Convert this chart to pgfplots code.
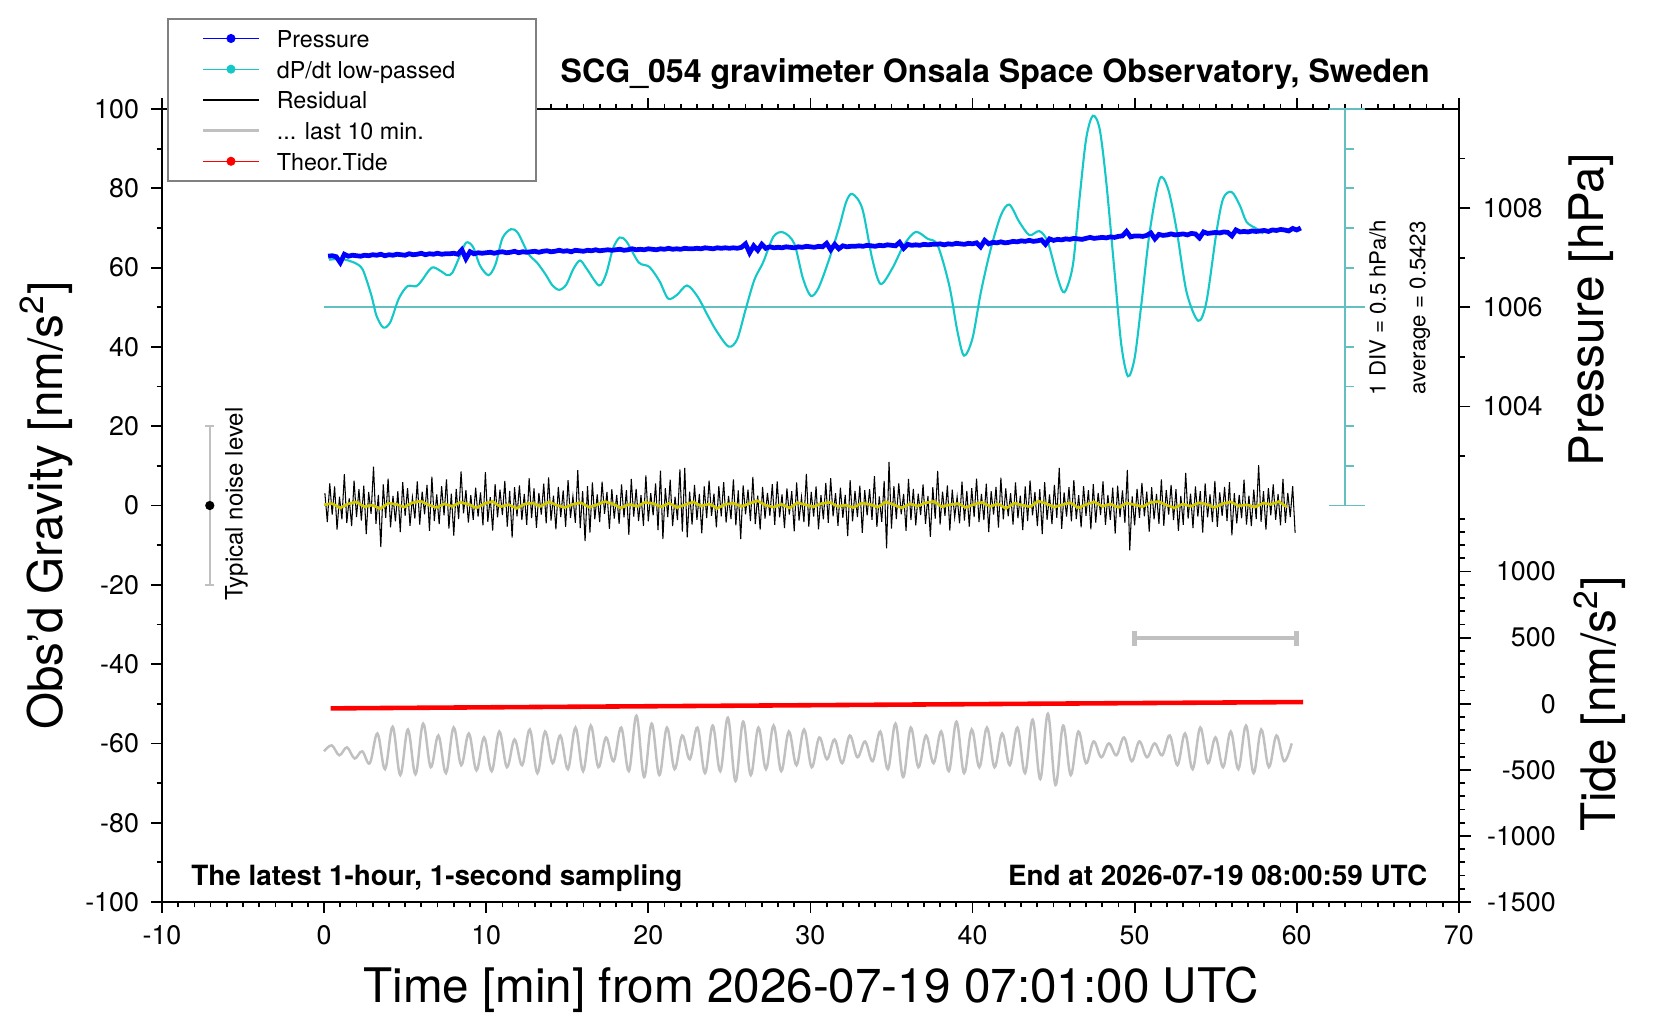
\documentclass[border=0pt]{standalone}
\usepackage{pgfplots}
\usepackage{pgfplotstable}
\pgfplotsset{compat=1.18}
\usepackage{fontspec}
\setmainfont{TeX Gyre Heros}
\setsansfont{TeX Gyre Heros}
\definecolor{cyc}{RGB}{20,200,200}
\definecolor{cys}{RGB}{100,192,192}
\definecolor{gry}{RGB}{192,192,192}
\definecolor{yel}{RGB}{210,200,0}
\definecolor{lgb}{RGB}{128,128,128}
\newcommand{\labfont}{\fontsize{13.5}{16}\selectfont}

% Residual (nm/s^2), 0.15 min spacing from t=0.05
\pgfplotstableread[row sep=\\]{r\\
3.1\\ -4.2\\ 5.6\\ -2.3\\ 4.8\\ -6.1\\ 2.2\\ -3.5\\ 7.9\\ -4.4\\ 1.8\\ -5.2\\ 6.3\\ -2.9\\ 4.1\\ -3.8\\ 5.0\\ -7.2\\ 3.4\\ -2.1\\
9.8\\ -4.6\\ 2.7\\ -10.5\\ 5.3\\ -3.1\\ 6.8\\ -5.5\\ 2.4\\ -4.0\\ 3.6\\ -6.7\\ 5.9\\ -2.6\\ 4.4\\ -5.1\\ 2.0\\ -3.3\\ 6.1\\ -4.8\\
3.5\\ -2.2\\ 5.2\\ -6.4\\ 7.3\\ -3.9\\ 2.8\\ -4.7\\ 4.9\\ -2.5\\ 6.6\\ -5.8\\ 3.0\\ -7.6\\ 4.2\\ -3.4\\ 8.6\\ -2.0\\ 3.9\\ -4.3\\
2.6\\ -3.6\\ 4.5\\ -2.8\\ 3.3\\ -5.0\\ 8.4\\ -4.1\\ 2.1\\ -6.3\\ 5.4\\ -3.0\\ 4.0\\ -2.4\\ 6.2\\ -5.3\\ 3.7\\ -8.1\\ 4.6\\ -2.7\\
5.1\\ -3.7\\ 2.9\\ -4.9\\ 6.9\\ -3.2\\ 4.3\\ -5.6\\ 3.2\\ -2.3\\ 5.5\\ -4.5\\ 7.1\\ -3.8\\ 2.5\\ -6.0\\ 4.7\\ -2.9\\ 3.8\\ -5.4\\
6.4\\ -3.1\\ 2.3\\ -4.4\\ 8.9\\ -5.7\\ 3.6\\ -9.0\\ 4.9\\ -6.8\\ 5.8\\ -3.5\\ 2.8\\ -4.2\\ 6.0\\ -2.1\\ 3.4\\ -5.9\\ 4.1\\ -3.3\\
2.7\\ -4.6\\ 5.3\\ -3.0\\ 3.9\\ -7.4\\ 6.7\\ -2.8\\ 4.2\\ -3.9\\ 2.6\\ -5.1\\ 7.6\\ -4.0\\ 3.1\\ -2.5\\ 5.6\\ -6.2\\ 8.8\\ -8.5\\
4.4\\ -2.9\\ 6.5\\ -5.2\\ 2.2\\ -3.7\\ 9.1\\ -6.6\\ 9.5\\ -8.0\\ 3.5\\ -4.8\\ 5.2\\ -3.6\\ 2.9\\ -7.0\\ 4.8\\ -3.2\\ 6.3\\ -2.6\\
3.0\\ -5.5\\ 4.9\\ -2.7\\ 5.9\\ -4.3\\ 2.4\\ -3.4\\ 6.6\\ -5.0\\ 3.8\\ -8.5\\ 5.1\\ -2.2\\ 4.0\\ -3.9\\ 7.2\\ -4.7\\ 2.5\\ -6.1\\
4.7\\ -3.3\\ 3.2\\ -2.6\\ 5.4\\ -4.9\\ 6.1\\ -3.0\\ 2.8\\ -5.7\\ 4.3\\ -2.3\\ 3.6\\ -6.5\\ 5.8\\ -3.8\\ 2.1\\ -4.2\\ 8.0\\ -5.3\\
3.4\\ -2.8\\ 4.8\\ -6.0\\ 2.6\\ -3.5\\ 5.7\\ -4.4\\ 6.9\\ -2.7\\ 3.1\\ -5.1\\ 4.5\\ -3.1\\ 2.7\\ -7.7\\ 6.4\\ -4.0\\ 3.7\\ -2.9\\
5.0\\ -6.9\\ 3.9\\ -2.5\\ 4.1\\ -3.6\\ 7.4\\ -5.4\\ 2.3\\ -4.1\\ 6.2\\ -10.8\\ 11.0\\ -5.8\\ 4.9\\ -3.4\\ 5.6\\ -2.2\\ 2.9\\ -6.4\\
6.7\\ -3.7\\ 4.2\\ -5.0\\ 3.0\\ -2.4\\ 5.3\\ -4.6\\ 2.4\\ -7.9\\ 4.6\\ -3.3\\ 8.7\\ -4.8\\ 3.5\\ -2.6\\ 5.1\\ -6.3\\ 4.0\\ -3.0\\
2.2\\ -4.5\\ 6.0\\ -3.8\\ 3.7\\ -5.3\\ 4.4\\ -2.9\\ 6.8\\ -4.2\\ 2.9\\ -3.7\\ 5.5\\ -6.7\\ 3.6\\ -2.3\\ 4.7\\ -5.6\\ 7.0\\ -3.5\\
4.3\\ -2.7\\ 3.1\\ -4.8\\ 5.8\\ -3.2\\ 2.5\\ -6.2\\ 4.8\\ -3.9\\ 6.3\\ -2.5\\ 3.4\\ -5.2\\ 4.1\\ -7.2\\ 5.9\\ -3.6\\ 2.8\\ -4.7\\
5.2\\ -3.1\\ 9.5\\ -5.9\\ 3.3\\ -2.8\\ 4.6\\ -4.0\\ 6.4\\ -3.4\\ 2.6\\ -5.5\\ 4.9\\ -2.6\\ 3.9\\ -6.0\\ 5.4\\ -4.3\\ 3.2\\ -2.4\\
6.1\\ -4.9\\ 2.7\\ -3.6\\ 4.5\\ -7.1\\ 5.0\\ -2.9\\ 3.8\\ -4.4\\ 9.0\\ -11.3\\ 2.3\\ -5.0\\ 4.2\\ -3.1\\ 5.7\\ -2.7\\ 3.5\\ -6.6\\
4.6\\ -3.5\\ 2.9\\ -4.6\\ 6.6\\ -5.1\\ 3.9\\ -2.3\\ 5.2\\ -3.7\\ 4.1\\ -6.4\\ 2.4\\ -4.9\\ 8.2\\ -3.3\\ 3.0\\ -5.7\\ 4.8\\ -2.8\\
3.6\\ -6.8\\ 5.6\\ -3.0\\ 2.8\\ -4.2\\ 6.2\\ -5.4\\ 3.3\\ -2.6\\ 4.7\\ -3.9\\ 5.9\\ -7.5\\ 3.1\\ -4.5\\ 2.7\\ -3.2\\ 6.5\\ -4.8\\
2.5\\ -5.2\\ 4.0\\ -3.4\\ 10.2\\ -4.1\\ 3.6\\ -6.1\\ 4.4\\ -2.5\\ 5.3\\ -3.6\\ 2.9\\ -5.0\\ 6.7\\ -4.4\\ 3.2\\ -2.9\\ 4.9\\ -6.9\\
}\resid

% Smoothed residual, 0.495 min spacing
\pgfplotstableread[row sep=\\]{s\\
0.2\\ 0.5\\ -0.6\\ 0.4\\ 0.9\\ -0.3\\ 0.1\\ -0.8\\ 0.6\\ 0.3\\
-0.4\\ 0.7\\ 1.1\\ 0.2\\ -0.5\\ 0.4\\ -0.2\\ 0.8\\ 0.3\\ -0.6\\
0.5\\ 1.0\\ -0.3\\ 0.2\\ -0.7\\ 0.4\\ 0.6\\ -0.2\\ 0.9\\ 0.1\\
-0.5\\ 0.3\\ 0.7\\ -0.4\\ 0.2\\ 1.0\\ 0.4\\ -0.6\\ 0.3\\ -0.2\\
0.8\\ 0.5\\ -0.3\\ 0.6\\ -0.5\\ 0.2\\ 0.9\\ -0.1\\ 0.4\\ -0.7\\
0.3\\ 0.6\\ -0.2\\ 0.5\\ 1.2\\ 0.1\\ -0.4\\ 0.3\\ -0.6\\ 0.7\\
0.2\\ -0.3\\ 0.5\\ 0.8\\ -0.2\\ 0.1\\ -0.5\\ 0.6\\ 0.3\\ -0.4\\
0.9\\ 0.2\\ -0.6\\ 0.4\\ -0.1\\ 0.7\\ 1.0\\ -0.3\\ 0.2\\ 0.5\\
-0.5\\ 0.3\\ 0.8\\ -0.2\\ 0.4\\ -0.7\\ 0.6\\ 0.1\\ -0.3\\ 1.1\\
0.5\\ -0.4\\ 0.2\\ 0.7\\ -0.6\\ 0.3\\ 0.9\\ -0.2\\ 0.4\\ -0.5\\
0.6\\ 0.2\\ -0.3\\ 0.8\\ 1.0\\ 0.1\\ -0.6\\ 0.4\\ -0.2\\ 0.7\\
0.3\\ -0.5\\ 0.5\\ 0.9\\ -0.1\\ 0.2\\ -0.4\\ 0.6\\ 0.3\\ 1.0\\
-0.4\\
}\smooth

% Last 10 min residual (offset display), 0.47 min spacing
\pgfplotstableread[row sep=\\]{g\\
-62.0\\ -60.5\\ -63.0\\ -61.0\\ -63.8\\ -62.0\\ -65.0\\
-57.5\\ -66.5\\ -55.8\\ -68.0\\ -56.5\\ -67.8\\ -55.0\\ -66.0\\ -58.0\\ -67.5\\
-56.0\\ -65.5\\ -57.5\\ -66.8\\ -58.5\\ -67.0\\ -57.0\\ -66.0\\ -59.0\\ -65.5\\
-56.5\\ -67.5\\ -57.0\\ -65.0\\ -58.0\\ -66.5\\ -56.0\\ -67.0\\ -55.5\\ -66.0\\
-58.5\\ -64.5\\ -56.0\\ -67.0\\ -53.0\\ -68.5\\ -55.0\\ -68.0\\ -56.0\\ -66.5\\
-58.0\\ -64.0\\ -56.0\\ -67.5\\ -55.5\\ -67.0\\ -53.5\\ -69.5\\ -54.5\\ -68.0\\
-56.0\\ -66.5\\ -55.5\\ -67.0\\ -57.0\\ -65.5\\ -56.5\\ -66.0\\ -58.5\\ -64.0\\
-59.0\\ -65.0\\ -58.0\\ -63.5\\ -59.5\\ -64.5\\ -57.0\\ -66.5\\ -55.0\\ -68.5\\
-56.0\\ -66.0\\ -58.0\\ -65.0\\ -57.0\\ -67.0\\ -54.5\\ -67.5\\ -56.5\\ -66.0\\
-56.0\\ -66.0\\ -57.5\\ -65.5\\ -56.0\\ -67.5\\ -54.0\\ -69.0\\ -52.5\\ -70.5\\
-55.5\\ -68.0\\ -57.0\\ -65.0\\ -59.5\\ -63.5\\ -60.0\\ -63.0\\ -58.5\\ -64.5\\
-59.5\\ -63.5\\ -60.0\\ -63.0\\ -58.0\\ -65.5\\ -57.5\\ -66.5\\ -56.0\\ -65.0\\
-58.5\\ -66.0\\
-57.0\\ -66.5\\ -55.5\\ -67.5\\ -56.5\\ -66.0\\ -58.0\\ -64.5\\ -60.0\\
}\lastten

% Pressure (hPa), 0.25 min spacing from t=0.25
\pgfplotstableread[row sep=\\]{p\\
1007.03\\ 1007.04\\ 1007.02\\ 1006.90\\ 1007.07\\ 1007.03\\ 1007.05\\ 1007.04\\ 1007.03\\ 1007.05\\
1007.04\\ 1007.06\\ 1007.05\\ 1007.07\\ 1007.04\\ 1007.06\\ 1007.05\\ 1007.07\\ 1007.06\\ 1007.05\\
1007.08\\ 1007.06\\ 1007.07\\ 1007.09\\ 1007.06\\ 1007.08\\ 1007.07\\ 1007.09\\ 1007.07\\ 1007.08\\
1007.08\\ 1007.09\\ 1007.07\\ 1007.16\\ 1006.98\\ 1007.12\\ 1007.08\\ 1007.10\\ 1007.09\\ 1007.10\\
1007.11\\ 1007.09\\ 1007.11\\ 1007.12\\ 1007.10\\ 1007.11\\ 1007.13\\ 1007.10\\ 1007.12\\ 1007.11\\
1007.12\\ 1007.13\\ 1007.11\\ 1007.13\\ 1007.14\\ 1007.12\\ 1007.13\\ 1007.15\\ 1007.13\\ 1007.14\\
1007.12\\ 1007.15\\ 1007.14\\ 1007.13\\ 1007.15\\ 1007.14\\ 1007.16\\ 1007.14\\ 1007.15\\ 1007.16\\
1007.15\\ 1007.16\\ 1007.17\\ 1007.15\\ 1007.16\\ 1007.18\\ 1007.16\\ 1007.17\\ 1007.16\\ 1007.18\\
1007.17\\ 1007.16\\ 1007.18\\ 1007.17\\ 1007.19\\ 1007.17\\ 1007.18\\ 1007.17\\ 1007.19\\ 1007.18\\
1007.18\\ 1007.19\\ 1007.18\\ 1007.20\\ 1007.19\\ 1007.18\\ 1007.20\\ 1007.19\\ 1007.20\\ 1007.19\\
1007.20\\ 1007.19\\ 1007.21\\ 1007.28\\ 1007.10\\ 1007.24\\ 1007.15\\ 1007.27\\ 1007.19\\ 1007.22\\
1007.20\\ 1007.21\\ 1007.20\\ 1007.22\\ 1007.21\\ 1007.20\\ 1007.22\\ 1007.21\\ 1007.23\\ 1007.22\\
1007.21\\ 1007.23\\ 1007.22\\ 1007.29\\ 1007.16\\ 1007.27\\ 1007.18\\ 1007.24\\ 1007.22\\ 1007.23\\
1007.23\\ 1007.24\\ 1007.23\\ 1007.25\\ 1007.24\\ 1007.23\\ 1007.25\\ 1007.24\\ 1007.26\\ 1007.25\\
1007.24\\ 1007.31\\ 1007.19\\ 1007.27\\ 1007.25\\ 1007.26\\ 1007.25\\ 1007.27\\ 1007.26\\ 1007.27\\
1007.27\\ 1007.28\\ 1007.26\\ 1007.28\\ 1007.27\\ 1007.29\\ 1007.28\\ 1007.27\\ 1007.29\\ 1007.28\\
1007.30\\ 1007.22\\ 1007.35\\ 1007.28\\ 1007.31\\ 1007.30\\ 1007.32\\ 1007.30\\ 1007.31\\ 1007.33\\
1007.32\\ 1007.34\\ 1007.33\\ 1007.35\\ 1007.33\\ 1007.34\\ 1007.36\\ 1007.27\\ 1007.38\\ 1007.35\\
1007.37\\ 1007.36\\ 1007.38\\ 1007.37\\ 1007.39\\ 1007.38\\ 1007.37\\ 1007.39\\ 1007.41\\ 1007.39\\
1007.40\\ 1007.41\\ 1007.40\\ 1007.42\\ 1007.41\\ 1007.43\\ 1007.44\\ 1007.53\\ 1007.42\\ 1007.44\\
1007.44\\ 1007.43\\ 1007.45\\ 1007.50\\ 1007.38\\ 1007.47\\ 1007.45\\ 1007.46\\ 1007.48\\ 1007.46\\
1007.47\\ 1007.48\\ 1007.46\\ 1007.49\\ 1007.48\\ 1007.40\\ 1007.52\\ 1007.49\\ 1007.50\\ 1007.51\\
1007.50\\ 1007.52\\ 1007.51\\ 1007.44\\ 1007.56\\ 1007.52\\ 1007.53\\ 1007.52\\ 1007.54\\ 1007.53\\
1007.54\\ 1007.55\\ 1007.53\\ 1007.56\\ 1007.55\\ 1007.57\\ 1007.56\\ 1007.54\\ 1007.59\\ 1007.56\\
1007.60\\
}\pres

\pgfplotsset{
  /pgf/number format/1000 sep={},
  every axis/.append style={
    at={(0pt,0pt)}, anchor=south west, scale only axis,
    width=367.5pt, height=224.7pt,
    xmin=-10, xmax=70,
    tick align=outside,
    major tick length=3pt, minor tick length=1.5pt,
    tick style={black, line width=0.5pt},
    axis line style={black, line width=0.65pt},
    scaled ticks=false,
    /pgf/number format/assume math mode=true,
    tick label style={font=\fontsize{7.6}{9}\selectfont},
  }
}

\begin{document}
\begin{tikzpicture}
\useasboundingbox (-45.9pt,-33.3pt) rectangle (424.5pt,255.6pt);

% ---------- main gravity axis ----------
\begin{axis}[
  ymin=-100, ymax=100,
  xtick={-10,0,...,70}, minor x tick num=9,
  ytick={-100,-80,...,100}, minor y tick num=1,
  ytick pos=left, xtick pos=both, xticklabel pos=left,
  clip=false,
  xlabel={Time [min] from 2026-07-19 07:01:00 UTC},
  ylabel={Obs'd Gravity [nm/s\textsuperscript{2}]},
  every axis x label/.style={at={(axis description cs:0.5004,-0.1108)}, anchor=center, font=\labfont},
  every axis y label/.style={at={(axis description cs:-0.089,0.5)}, anchor=center, rotate=90, font=\labfont},
  legend cell align=left,
  legend image code/.code={\draw[mark repeat=2,mark phase=2,#1] plot coordinates {(0pt,0pt) (7.8pt,0pt) (15.6pt,0pt)};},
  legend style={at={(axis description cs:0.0041,1.1148)}, anchor=north west,
    draw=lgb, line width=0.5pt, fill=white,
    font=\fontsize{6.6}{7.9}\selectfont,
    inner xsep=9.5pt, inner ysep=1.2pt, row sep=0pt, column sep=3.7pt,
    nodes={inner sep=1pt, text height=5.9pt, text depth=0.8pt}},
]
\addlegendimage{blue, line width=0.35pt, mark=*, mark size=1.1pt}
\addlegendentry{\makebox[63pt][l]{Pressure}}
\addlegendimage{cyc, line width=0.35pt, mark=*, mark size=1.1pt}
\addlegendentry{dP/dt low-passed}
\addlegendimage{black, line width=0.6pt}
\addlegendentry{Residual}
\addlegendimage{gry, line width=1pt}
\addlegendentry{... last 10 min.}
\addlegendimage{red, line width=0.35pt, mark=*, mark size=1.1pt}
\addlegendentry{Theor.Tide}

% dP/dt scale (1 DIV = 0.5 hPa/h), baseline = average
\addplot[cys, line width=0.55pt, forget plot] coordinates {(0,50) (64.2,50)};
\addplot[cys, line width=0.55pt, forget plot] coordinates {(63,0) (63,100)};
\addplot[cys, line width=0.55pt, forget plot] coordinates {(62,0) (64.2,0)};
\addplot[cys, line width=0.55pt, forget plot] coordinates {(62,100) (64.2,100)};
\addplot[cys, line width=0.5pt, forget plot] coordinates {(63,10) (63.55,10)};
\addplot[cys, line width=0.5pt, forget plot] coordinates {(63,20) (63.55,20)};
\addplot[cys, line width=0.5pt, forget plot] coordinates {(63,30) (63.55,30)};
\addplot[cys, line width=0.5pt, forget plot] coordinates {(63,40) (63.55,40)};
\addplot[cys, line width=0.5pt, forget plot] coordinates {(63,60) (63.55,60)};
\addplot[cys, line width=0.5pt, forget plot] coordinates {(63,70) (63.55,70)};
\addplot[cys, line width=0.5pt, forget plot] coordinates {(63,80) (63.55,80)};
\addplot[cys, line width=0.5pt, forget plot] coordinates {(63,90) (63.55,90)};

% dP/dt low-passed (display units)
\addplot[cyc, line width=0.6pt, smooth, tension=0.5, forget plot] coordinates {
(0.3,62.0) (1.0,62.2) (1.5,61.8) (1.84,61.3) (2.37,59.6) (2.91,53.1) (3.23,47.9) (3.65,44.9)
(4.08,46.2) (4.61,52.2) (5.14,55.3) (5.68,55.3) (6.0,56.6) (6.64,60.0) (7.17,59.2) (7.6,58.1)
(7.91,58.7) (8.34,62.6) (8.76,66.3) (9.19,65.2) (9.62,60.5) (10.15,58.1) (10.58,60.9) (11.0,67.4)
(11.53,69.7) (11.96,68.7) (12.6,63.5) (13.13,61.3) (13.66,58.3) (14.09,55.5) (14.51,54.4) (14.94,55.7)
(15.37,59.6) (15.79,61.8) (16.22,59.6) (16.96,55.5) (17.39,58.3) (17.82,64.8) (18.24,67.6) (18.67,66.5)
(19.41,61.3) (20.06,60.2) (20.69,56.6) (21.22,52.2) (21.76,53.1) (22.39,55.5) (23.04,52.7) (23.67,47.9)
(24.21,44.0) (24.95,40.1) (25.48,41.9) (26.02,49.7) (26.55,57.0) (27.08,61.3) (27.72,67.8) (28.32,68.9)
(29.0,66.1) (29.53,57.4) (30.02,52.9) (30.49,54.8) (31.13,61.8) (31.77,70.1) (32.2,76.5) (32.58,78.6)
(33.2,74.9) (33.81,62.3) (34.33,55.9) (35.05,59.8) (35.77,65.7) (36.49,69.0) (37.22,67.3) (37.84,65.7)
(38.56,55.6) (39.07,43.9) (39.48,37.8) (40.0,42.2) (40.52,53.9) (41.13,64.8) (41.75,73.2) (42.27,75.9)
(42.89,71.5) (43.51,68.2) (44.12,69.2) (44.64,66.5) (45.26,57.3) (45.67,53.8) (46.19,60.6) (46.6,77.4)
(47.01,92.5) (47.42,98.3) (47.84,95.0) (48.25,81.6) (48.76,59.0) (49.18,40.5) (49.59,32.6) (50.0,37.2)
(50.41,50.6) (50.93,69.0) (51.55,82.4) (52.06,79.9) (52.58,69.8) (53.2,53.9) (53.92,46.6) (54.43,51.4)
(55.05,69.0) (55.46,77.4) (55.98,79.1) (56.49,75.7) (56.91,71.5) (57.53,69.8) (57.94,68.6)
};

% Residual and its smoothed version
\addplot[black, line width=0.3pt, forget plot] table[x expr={0.05+\coordindex*0.15}, y=r] {\resid};
\addplot[yel, line width=0.75pt, forget plot] table[x expr={\coordindex*0.495}, y=s] {\smooth};

% last 10 minutes, stretched
\addplot[gry, line width=0.7pt, smooth, tension=0.6, forget plot] table[x expr={\coordindex*0.47}, y=g] {\lastten};
\addplot[gry, line width=1.2pt, mark=none, forget plot,
  error bars/.cd, x dir=both, x explicit, error mark=|,
  error bar style={gry, line width=1.2pt},
  error mark options={gry, mark size=2.1pt, line width=1.4pt}]
  coordinates {(55,-33.5) +- (5,0)};

% typical noise level
\addplot[only marks, mark=*, mark size=1.1pt, black, forget plot,
  error bars/.cd, y dir=both, y explicit, error mark=|,
  error bar style={gry, line width=0.6pt},
  error mark options={gry, mark size=1.3pt, line width=0.6pt}]
  coordinates {(-7.05,0) +- (0,20)};

\node[rotate=90, inner sep=0pt, font=\fontsize{6.8}{8}\selectfont] at (axis cs:-5.4,0.4) {Typical noise level};
\node[rotate=90, inner sep=0pt, font=\fontsize{6.3}{7.5}\selectfont] at (axis cs:65.0,49.9) {1 DIV = 0.5 hPa/h};
\node[rotate=90, inner sep=0pt, font=\fontsize{6.3}{7.5}\selectfont] at (axis cs:67.6,49.9) {average = 0.5423};
\node[anchor=base, inner sep=0pt, yshift=7.5pt, font=\bfseries\fontsize{9.1}{10}\selectfont] at (axis cs:41.4,100) {SCG\_054 gravimeter Onsala Space Observatory, Sweden};
\node[anchor=base west, inner sep=0pt, font=\bfseries\fontsize{7.9}{9}\selectfont] at (axis cs:-8.23,-95.9) {The latest 1-hour, 1-second sampling};
\node[anchor=base east, inner sep=0pt, font=\bfseries\fontsize{7.9}{9}\selectfont] at (axis cs:68.1,-95.9) {End at 2026-07-19 08:00:59 UTC};
\end{axis}

% ---------- pressure axis ----------
\begin{axis}[
  ymin=994, ymax=1010,
  hide x axis, axis y line*=right,
  ytick={1004,1006,1008}, minor ytick={1003,1005,1007,1009},
  major tick length=3.3pt, minor tick length=1.8pt,
  ylabel={Pressure [hPa]},
  every axis y label/.style={at={(axis description cs:1.102,0.747)}, anchor=center, rotate=90, font=\labfont},
]
\addplot[blue, line width=1.35pt] table[x expr={0.25+\coordindex*0.25}, y=p] {\pres};
\end{axis}

% ---------- tide axis ----------
\begin{axis}[
  ymin=-1500, ymax=4500,
  hide x axis, axis y line*=right,
  ytick={-1500,-1000,...,1000}, minor ytick={-1400,-1300,...,1400},
  major tick length=3.3pt, minor tick length=1.8pt,
  yticklabel style={text width=20.6pt, align=right},
  ylabel={Tide [nm/s\textsuperscript{2}]},
  every axis y label/.style={at={(axis description cs:1.1086,0.2497)}, anchor=center, rotate=90, font=\labfont},
]
\addplot[red, line width=1.3pt] coordinates {(0.4,-35) (10,-27) (20,-19) (30,-11) (40,-3) (50,5) (60.4,13)};
\end{axis}
\end{tikzpicture}
\end{document}
